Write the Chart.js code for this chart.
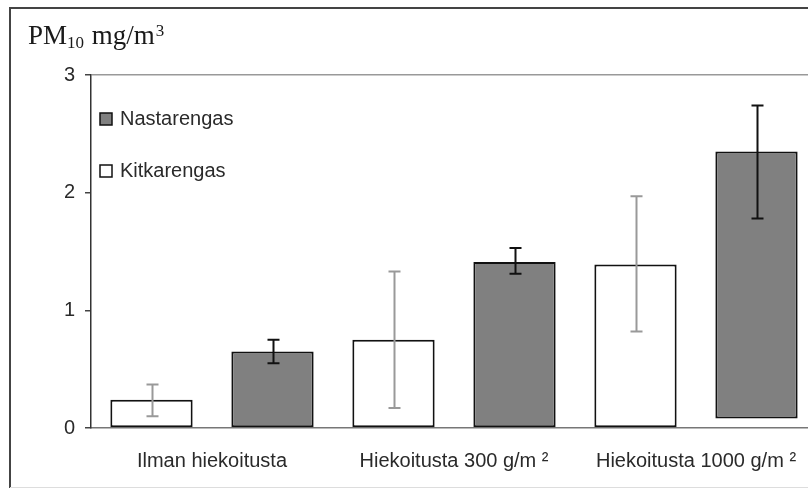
<!DOCTYPE html>
<html>
<head>
<meta charset="utf-8">
<script src="https://cdn.jsdelivr.net/npm/chart.js@4/dist/chart.umd.min.js"></script>
<style>
    html, body { margin: 0; padding: 0; background: #fff; overflow: hidden; }
    #wrap { position: relative; width: 808px; height: 490px; overflow: hidden; }
    #chart { position: absolute; left: 0; top: 0; }
</style>
</head>
<body>
<div id="wrap"><canvas id="chart" width="830" height="490"></canvas></div>
<script>
// data
var categories = ['Ilman hiekoitusta', 'Hiekoitusta 300 g/m \u00b2', 'Hiekoitusta 1000 g/m \u00b2'];

var kitkaValues = [0.24, 0.75, 1.39];
var kitkaLow    = [0.10, 0.17, 0.82];
var kitkaHigh   = [0.37, 1.33, 1.97];

var nastaBase   = [0, 0, 0.08];
var nastaValues = [0.65, 1.41, 2.35];
var nastaLow    = [0.55, 1.31, 1.78];
var nastaHigh   = [0.75, 1.53, 2.74];

var yMin = 0, yMax = 3, yStep = 1;

var nastaData = [];
for (var i = 0; i < nastaValues.length; i++) {
    nastaData.push([nastaBase[i], nastaValues[i]]);
}

var sans = "'Liberation Sans', Arial, sans-serif";
var serif = "'Liberation Serif', 'Times New Roman', serif";

// frame, title with sub/superscript, legend inside the plot
var decor = {
    id: 'decor',
    beforeDraw: function (chart) {
        var ctx = chart.ctx;
        ctx.save();
        ctx.fillStyle = '#fff';
        ctx.fillRect(0, 0, chart.width, chart.height);
        ctx.strokeStyle = '#444';
        ctx.lineWidth = 2;
        ctx.beginPath();
        ctx.moveTo(10, 488);
        ctx.lineTo(10, 8);
        ctx.lineTo(chart.width, 8);
        ctx.stroke();
        ctx.strokeStyle = '#ddd';
        ctx.lineWidth = 1;
        ctx.beginPath();
        ctx.moveTo(10, 487.5);
        ctx.lineTo(chart.width, 487.5);
        ctx.stroke();
        ctx.restore();
    },
    afterDraw: function (chart) {
        var ctx = chart.ctx;
        ctx.save();
        ctx.fillStyle = '#1a1a1a';
        ctx.textBaseline = 'alphabetic';
        ctx.textAlign = 'left';
        var x = 28;
        ctx.font = '27px ' + serif;
        ctx.fillText('PM', x, 44);
        x += ctx.measureText('PM').width;
        ctx.font = '17px ' + serif;
        ctx.fillText('10', x, 48);
        x += ctx.measureText('10').width + 1;
        ctx.font = '27px ' + serif;
        ctx.fillText(' mg/m', x, 44);
        x += ctx.measureText(' mg/m').width + 1;
        ctx.font = '17px ' + serif;
        ctx.fillText('3', x, 36);

        // legend
        var items = [chart.data.datasets[1], chart.data.datasets[0]];
        ctx.font = '20px ' + sans;
        ctx.textBaseline = 'middle';
        for (var k = 0; k < items.length; k++) {
            var y = 119 + k * 52;
            ctx.fillStyle = items[k].backgroundColor;
            ctx.fillRect(100, y - 6, 12, 12);
            ctx.strokeStyle = '#111';
            ctx.lineWidth = 1.5;
            ctx.strokeRect(100, y - 6, 12, 12);
            ctx.fillStyle = '#2a2a2a';
            ctx.fillText(items[k].label, 120, y);
        }
        ctx.restore();
    },
    afterDatasetsDraw: function (chart) {
        var ctx = chart.ctx,
            yScale = chart.scales.y;
        ctx.save();
        chart.data.datasets.forEach(function (ds, d) {
            var meta = chart.getDatasetMeta(d);
            ctx.strokeStyle = ds.errorColor;
            ctx.lineWidth = 2;
            meta.data.forEach(function (bar, j) {
                var top = yScale.getPixelForValue(ds.errHigh[j]),
                    bot = yScale.getPixelForValue(ds.errLow[j]),
                    cx = Math.round(bar.x) + 0.5;
                ctx.beginPath();
                ctx.moveTo(cx, top);
                ctx.lineTo(cx, bot);
                ctx.moveTo(cx - 6, top);
                ctx.lineTo(cx + 6, top);
                ctx.moveTo(cx - 6, bot);
                ctx.lineTo(cx + 6, bot);
                ctx.stroke();
            });
        });
        ctx.restore();
    }
};

new Chart(document.getElementById('chart'), {
    type: 'bar',
    data: {
        labels: categories,
        datasets: [{
            label: 'Kitkarengas',
            data: kitkaValues,
            errLow: kitkaLow,
            errHigh: kitkaHigh,
            errorColor: '#999',
            backgroundColor: '#ffffff',
            borderColor: '#111',
            borderWidth: 2,
            borderSkipped: false
        }, {
            label: 'Nastarengas',
            data: nastaData,
            errLow: nastaLow,
            errHigh: nastaHigh,
            errorColor: '#111',
            backgroundColor: '#808080',
            borderColor: '#111',
            borderWidth: 2,
            borderSkipped: false
        }]
    },
    options: {
        responsive: false,
        animation: false,
        layout: { padding: { left: 0, right: 13, top: 75, bottom: 0 } },
        plugins: {
            legend: { display: false },
            tooltip: { enabled: false }
        },
        datasets: {
            bar: { categoryPercentage: 1.0, barPercentage: 0.68 }
        },
        scales: {
            x: {
                grid: { display: true, drawOnChartArea: false, drawTicks: false },
                border: { display: true, color: '#777', width: 1.5 },
                ticks: {
                    color: '#2a2a2a',
                    font: { family: sans, size: 20 },
                    padding: 21,
                    maxRotation: 0,
                    autoSkip: false
                },
                afterFit: function (scale) { scale.height = 62; }
            },
            y: {
                min: yMin,
                max: yMax,
                grid: {
                    color: function (c) { return c.tick && c.tick.value === yMax ? '#999' : 'rgba(0,0,0,0)'; },
                    lineWidth: 1.5,
                    tickColor: '#444',
                    tickLength: 6
                },
                border: { display: true, color: '#333', width: 1.5 },
                ticks: {
                    stepSize: yStep,
                    color: '#2a2a2a',
                    font: { family: sans, size: 20 },
                    padding: 10
                },
                afterFit: function (scale) { scale.width = 91; }
            }
        }
    },
    plugins: [decor]
});
</script>
</body>
</html>
